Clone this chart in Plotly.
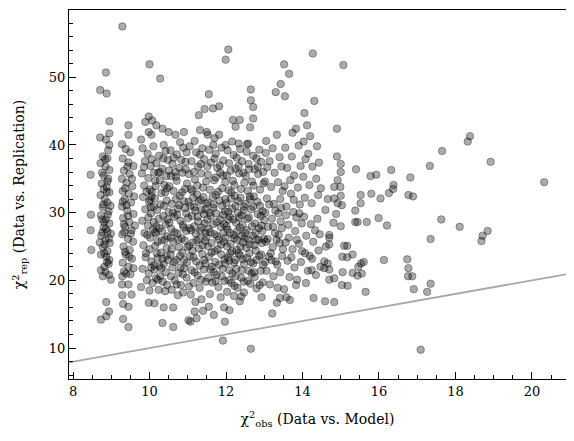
import plotly.graph_objects as go

# chi2 obs vs chi2 rep (x, y) by region
left_cols = [
    (8.46, 35.6), (8.47, 29.7), (8.46, 27.4), (8.48, 24.5),
    (8.71, 48.1), (8.88, 47.6), (8.86, 50.7), (8.95, 43.5), (8.95, 41.7), (8.71, 41.1),
    (8.86, 40.8), (8.95, 40.0), (8.78, 38.3), (8.90, 38.0), (8.72, 37.3), (8.85, 36.8),
    (8.95, 36.3), (8.80, 35.5), (8.92, 35.0), (8.75, 34.3), (8.88, 33.8), (8.95, 33.0),
    (8.72, 32.6), (8.83, 32.0), (8.90, 31.5), (8.78, 30.8), (8.93, 30.2), (8.73, 29.6),
    (8.86, 29.0), (8.95, 28.4), (8.80, 27.8), (8.90, 27.2), (8.74, 26.6), (8.85, 26.0),
    (8.96, 25.5), (8.78, 24.9), (8.90, 24.3), (8.73, 23.8), (8.87, 23.5), (8.95, 23.0),
    (8.82, 22.0), (8.73, 21.5), (8.94, 20.8), (8.99, 20.1), (8.87, 16.8), (8.94, 15.4),
    (8.87, 14.7), (8.73, 14.2), (8.84, 37.9), (8.92, 39.2), (8.76, 35.9), (8.98, 31.0),
    (8.81, 28.6), (8.99, 26.9), (8.70, 25.6), (8.93, 22.4), (8.85, 21.2), (8.88, 33.1),
    (8.79, 31.2), (8.91, 29.7), (8.83, 25.3), (8.77, 27.1),
    (8.80, 33.5), (8.90, 34.6), (8.76, 29.0), (8.86, 27.6), (8.94, 26.2), (8.82, 24.0),
    (8.89, 22.7), (8.78, 20.6),
    (9.29, 57.5), (9.45, 42.9), (9.45, 41.5), (9.28, 40.1), (9.38, 39.4), (9.50, 38.9),
    (9.30, 38.0), (9.45, 37.4), (9.58, 36.9), (9.33, 36.2), (9.48, 35.7), (9.28, 35.0),
    (9.40, 34.4), (9.55, 33.9), (9.30, 33.2), (9.46, 32.8), (9.35, 32.0), (9.52, 31.5),
    (9.28, 30.9), (9.42, 30.3), (9.58, 29.8), (9.31, 29.2), (9.47, 28.6), (9.36, 27.9),
    (9.53, 27.4), (9.29, 26.8), (9.44, 26.1), (9.57, 25.7), (9.32, 25.0), (9.48, 24.5),
    (9.38, 23.8), (9.54, 23.2), (9.30, 22.6), (9.45, 22.0), (9.33, 21.3), (9.50, 20.9),
    (9.29, 20.6), (9.45, 19.4), (9.28, 19.4), (9.29, 17.8), (9.53, 17.9), (9.31, 16.5),
    (9.45, 16.1), (9.31, 14.3), (9.45, 13.1), (9.60, 32.4), (9.62, 28.1), (9.40, 31.1),
    (9.36, 24.2), (9.58, 21.8), (9.42, 36.8), (9.34, 27.1), (9.78, 40.8), (9.78, 19.0),
    (9.36, 33.6), (9.44, 29.5), (9.51, 26.9), (9.33, 28.3), (9.47, 23.5), (9.39, 21.0),
    (9.54, 35.0), (9.30, 31.6),
]

core_10_11 = [
    (9.98, 44.2), (9.89, 43.4), (10.07, 43.6), (10.18, 42.9), (9.98, 41.9), (10.05, 41.5),
    (10.34, 42.4), (10.50, 41.9), (10.37, 40.0), (10.00, 51.9), (10.28, 49.8),
    (10.00, 18.5), (9.98, 16.7), (10.13, 16.6), (10.37, 16.0), (10.24, 18.6), (10.41, 18.4),
    (10.34, 13.7),
    (9.82, 39.5), (9.95, 38.7), (10.10, 39.8), (10.25, 38.4), (10.42, 39.1), (9.88, 37.6),
    (10.03, 36.9), (10.18, 37.3), (10.33, 36.5), (10.48, 37.8), (9.80, 35.8), (9.97, 35.1),
    (10.12, 35.9), (10.27, 34.8), (10.44, 35.4), (9.86, 34.0), (10.01, 33.4), (10.16, 33.9),
    (10.31, 32.9), (10.46, 33.6), (9.83, 32.3), (9.99, 31.6), (10.14, 32.1), (10.29, 31.2),
    (10.45, 31.8), (9.89, 30.5), (10.04, 29.9), (10.20, 30.4), (10.36, 29.5), (10.50, 30.1),
    (9.81, 28.8), (9.96, 28.1), (10.11, 28.6), (10.26, 27.7), (10.42, 28.3), (9.87, 27.0),
    (10.02, 26.3), (10.17, 26.9), (10.32, 25.9), (10.47, 26.5), (9.84, 25.2), (10.00, 24.6),
    (10.15, 25.1), (10.30, 24.1), (10.45, 24.8), (9.90, 23.4), (10.05, 22.8), (10.21, 23.3),
    (10.37, 22.4), (10.49, 23.0), (9.82, 21.7), (9.98, 21.0), (10.13, 21.6), (10.28, 20.6),
    (10.43, 21.2), (9.93, 20.0), (10.08, 19.6), (10.35, 19.8), (10.22, 20.1), (10.46, 19.3),
    (10.06, 33.1), (10.09, 27.5), (10.19, 24.0), (10.24, 29.1), (10.39, 34.1), (10.12, 22.2),
    (9.94, 26.7), (10.27, 36.0), (10.40, 26.0), (10.03, 30.8),
    (10.68, 41.5), (10.90, 41.9), (10.80, 40.4), (10.62, 16.0), (10.62, 13.1), (11.02, 14.1),
    (10.55, 39.2), (10.72, 38.6), (10.88, 39.6), (10.60, 37.2), (10.78, 36.6), (10.94, 37.5),
    (10.56, 35.4), (10.71, 34.7), (10.86, 35.9), (10.98, 34.3), (10.63, 33.2), (10.79, 32.5),
    (10.93, 33.5), (10.58, 31.3), (10.74, 30.6), (10.90, 31.7), (10.65, 29.4), (10.81, 28.8),
    (10.96, 29.9), (10.57, 27.6), (10.73, 26.9), (10.89, 27.8), (10.62, 25.7), (10.77, 24.9),
    (10.92, 25.9), (10.55, 23.8), (10.70, 23.0), (10.86, 24.1), (10.98, 22.6), (10.60, 21.9),
    (10.76, 21.1), (10.91, 21.8), (10.66, 20.0), (10.82, 19.3), (10.97, 20.4), (10.58, 18.6),
    (10.74, 17.8), (10.88, 18.2), (10.69, 32.0), (10.84, 26.2), (10.52, 28.5), (10.95, 36.4),
    (10.67, 36.0), (10.80, 23.6),
]

core_11_12 = [
    (11.18, 40.6), (11.29, 44.4), (11.44, 45.3), (11.32, 42.2), (11.50, 41.9), (11.23, 14.4),
    (11.07, 13.9), (11.18, 15.4), (11.40, 15.5),
    (11.05, 39.8), (11.22, 38.9), (11.38, 39.5), (11.10, 37.6), (11.27, 36.8), (11.43, 37.9),
    (11.03, 35.7), (11.19, 34.9), (11.35, 35.8), (11.48, 34.6), (11.08, 33.5), (11.24, 32.7),
    (11.40, 33.7), (11.02, 31.6), (11.17, 30.8), (11.33, 31.9), (11.47, 30.5), (11.11, 29.5),
    (11.27, 28.7), (11.42, 29.8), (11.05, 27.7), (11.21, 26.9), (11.37, 27.8), (11.49, 26.4),
    (11.13, 25.6), (11.29, 24.7), (11.45, 25.8), (11.06, 23.6), (11.22, 22.8), (11.38, 23.9),
    (11.10, 21.5), (11.26, 20.7), (11.42, 21.6), (11.15, 19.6), (11.31, 18.9), (11.47, 19.8),
    (11.08, 17.9), (11.36, 17.2), (11.20, 16.8), (11.14, 32.2), (11.30, 26.1), (11.25, 34.0),
    (11.44, 28.4), (11.12, 24.4), (11.34, 37.2), (11.46, 22.5),
    (11.55, 47.5), (11.66, 45.4), (11.82, 45.7), (11.52, 41.5), (11.70, 41.0), (11.82, 41.5),
    (11.67, 40.0), (11.99, 40.0), (11.99, 52.6), (12.06, 54.1), (11.68, 14.9), (11.55, 16.1),
    (11.95, 16.0), (11.92, 11.1), (11.97, 13.9),
    (11.56, 39.3), (11.73, 38.7), (11.88, 39.6), (11.61, 37.4), (11.77, 36.6), (11.93, 37.7),
    (11.53, 35.6), (11.69, 34.8), (11.85, 35.9), (11.98, 34.5), (11.58, 33.4), (11.74, 32.6),
    (11.90, 33.6), (11.52, 31.5), (11.67, 30.7), (11.83, 31.8), (11.97, 30.2), (11.60, 29.5),
    (11.76, 28.6), (11.92, 29.7), (11.54, 27.6), (11.70, 26.8), (11.86, 27.9), (11.99, 26.3),
    (11.62, 25.5), (11.78, 24.6), (11.94, 25.7), (11.56, 23.5), (11.72, 22.7), (11.88, 23.8),
    (11.59, 21.6), (11.75, 20.8), (11.91, 21.7), (11.64, 19.7), (11.80, 19.0), (11.96, 19.9),
    (11.58, 18.0), (11.86, 17.5), (11.65, 32.3), (11.81, 26.0), (11.73, 35.2), (11.95, 28.3),
    (11.62, 24.1), (11.84, 37.0), (11.98, 22.5), (11.69, 21.2),
]

core_12_13 = [
    (12.18, 43.7), (12.36, 43.7), (12.25, 42.7), (12.16, 40.5), (12.33, 40.2), (12.09, 15.6),
    (12.36, 16.9), (12.40, 17.6), (12.21, 17.7), (12.47, 18.2),
    (12.04, 39.2), (12.20, 38.5), (12.37, 39.4), (12.08, 37.3), (12.25, 36.5), (12.42, 37.6),
    (12.02, 35.5), (12.18, 34.7), (12.34, 35.8), (12.48, 34.4), (12.07, 33.3), (12.23, 32.5),
    (12.39, 33.5), (12.01, 31.4), (12.16, 30.6), (12.32, 31.7), (12.46, 30.3), (12.10, 29.4),
    (12.26, 28.5), (12.41, 29.6), (12.04, 27.5), (12.20, 26.7), (12.36, 27.8), (12.49, 26.2),
    (12.12, 25.4), (12.28, 24.5), (12.44, 25.6), (12.05, 23.4), (12.21, 22.6), (12.37, 23.7),
    (12.09, 21.5), (12.25, 20.6), (12.41, 21.5), (12.14, 19.6), (12.30, 18.9), (12.46, 19.8),
    (12.03, 18.3), (12.13, 32.1), (12.29, 26.0), (12.22, 34.1), (12.43, 28.2), (12.11, 24.0),
    (12.33, 36.9), (12.47, 22.4), (12.17, 21.0), (12.31, 30.0), (12.06, 29.0), (12.38, 25.0),
    (12.24, 23.0),
    (12.65, 48.2), (12.65, 46.6), (12.71, 45.6), (12.71, 43.9), (12.63, 42.6), (12.58, 40.2),
    (12.55, 40.1), (12.65, 9.9), (12.93, 17.5),
    (12.54, 39.0), (12.71, 38.4), (12.87, 39.3), (12.59, 37.2), (12.75, 36.4), (12.92, 37.5),
    (12.52, 35.4), (12.68, 34.6), (12.84, 35.7), (12.98, 34.3), (12.57, 33.2), (12.73, 32.4),
    (12.89, 33.4), (12.51, 31.3), (12.66, 30.5), (12.82, 31.6), (12.96, 30.2), (12.60, 29.3),
    (12.76, 28.4), (12.91, 29.5), (12.54, 27.4), (12.70, 26.6), (12.86, 27.7), (12.99, 26.1),
    (12.62, 25.3), (12.78, 24.4), (12.94, 25.5), (12.55, 23.3), (12.71, 22.5), (12.87, 23.6),
    (12.59, 21.4), (12.75, 20.5), (12.91, 21.4), (12.64, 19.5), (12.80, 18.8), (12.96, 19.7),
    (12.63, 32.0), (12.79, 26.0), (12.72, 34.0), (12.93, 28.1), (12.61, 24.0), (12.83, 36.8),
    (12.97, 22.3), (12.67, 21.0),
]

core_13_145 = [
    (13.52, 51.9), (13.43, 49.0), (13.30, 47.8), (13.21, 15.1), (13.33, 16.7), (13.41, 17.4),
    (13.33, 41.5), (13.05, 40.6),
    (13.04, 38.8), (13.22, 39.5), (13.40, 38.2), (13.08, 36.7), (13.27, 35.9), (13.45, 36.8),
    (13.02, 34.6), (13.18, 33.8), (13.36, 34.5), (13.48, 33.2), (13.07, 32.1), (13.25, 31.3),
    (13.42, 32.0), (13.03, 30.0), (13.20, 29.1), (13.37, 29.9), (13.10, 27.9), (13.28, 27.0),
    (13.46, 27.7), (13.05, 25.7), (13.22, 24.9), (13.40, 25.5), (13.12, 23.5), (13.30, 22.8),
    (13.47, 23.6), (13.06, 21.4), (13.24, 20.6), (13.42, 21.2), (13.15, 19.4), (13.35, 18.9),
    (13.14, 37.6), (13.32, 26.0), (13.19, 23.0), (13.44, 30.7),
    (13.54, 47.2), (13.65, 50.5), (13.83, 42.4), (13.74, 41.8), (13.58, 17.5), (13.67, 17.1),
    (13.52, 18.7), (13.83, 19.3),
    (13.55, 39.6), (13.72, 38.3), (13.90, 39.9), (13.60, 36.6), (13.78, 35.5), (13.95, 36.9),
    (13.53, 33.9), (13.70, 32.8), (13.88, 33.7), (13.58, 30.9), (13.76, 30.1), (13.93, 31.2),
    (13.63, 28.2), (13.81, 27.3), (13.98, 28.4), (13.56, 25.6), (13.74, 24.6), (13.91, 25.4),
    (13.61, 22.9), (13.79, 21.9), (13.96, 22.7), (13.66, 20.5), (13.86, 20.1), (13.68, 34.8),
    (13.84, 29.3),
    (14.27, 53.5), (14.31, 46.5), (14.05, 44.7), (14.12, 42.9), (14.09, 19.6), (14.24, 21.5),
    (14.29, 17.4),
    (14.03, 40.5), (14.20, 41.3), (14.38, 39.8), (14.08, 37.9), (14.26, 36.8), (14.43, 37.4),
    (14.02, 35.3), (14.18, 34.1), (14.36, 35.0), (14.48, 33.6), (14.06, 32.2), (14.24, 31.4),
    (14.41, 32.6), (14.04, 29.4), (14.22, 28.3), (14.39, 29.1), (14.10, 26.6), (14.28, 25.7),
    (14.45, 26.8), (14.07, 24.0), (14.25, 23.2), (14.42, 24.4), (14.14, 21.4), (14.35, 20.8),
    (14.47, 22.0), (14.15, 38.7), (14.33, 27.4), (14.19, 23.6),
]

# extra points where the reference core is darkest (heavy overlap)
core_extra = [
    (10.02, 31.9), (10.05, 32.4), (10.11, 30.9), (10.14, 27.1), (10.18, 28.0), (10.21, 25.7),
    (10.26, 22.1), (10.31, 21.8), (10.33, 27.2), (10.38, 31.0), (10.41, 33.0), (10.44, 23.6),
    (10.47, 29.0), (10.52, 33.9), (10.55, 26.3), (10.58, 24.6), (10.61, 30.0), (10.64, 22.7),
    (10.66, 27.1), (10.69, 35.3), (10.72, 29.7), (10.75, 26.0), (10.78, 31.1), (10.81, 21.9),
    (10.85, 33.0), (10.87, 28.2), (10.90, 23.0), (10.93, 30.7), (10.96, 27.3), (10.99, 24.9),
    (11.01, 29.2), (11.04, 25.1), (11.07, 31.0), (11.09, 27.4), (11.12, 33.2), (11.15, 23.4),
    (11.17, 28.0), (11.20, 30.3), (11.23, 25.9), (11.26, 29.4), (11.28, 31.6), (11.31, 22.2),
    (11.33, 27.3), (11.36, 30.4), (11.39, 25.2), (11.41, 32.3), (11.43, 23.0), (11.46, 27.0),
    (11.48, 31.3), (11.51, 29.0), (11.53, 25.0), (11.57, 30.0), (11.59, 27.1), (11.63, 22.0),
    (11.66, 28.3), (11.68, 31.2), (11.71, 24.3), (11.74, 29.9), (11.77, 26.5), (11.79, 33.1),
    (11.82, 22.3), (11.85, 29.0), (11.87, 25.3), (11.90, 31.0), (11.93, 27.0), (11.96, 23.1),
    (11.98, 32.0), (12.01, 28.0), (12.03, 25.0), (12.06, 30.1), (12.08, 22.9), (12.11, 27.0),
    (12.14, 33.0), (12.16, 24.3), (12.19, 29.0), (12.22, 26.2), (12.25, 31.0), (12.27, 21.7),
    (12.30, 27.3), (12.33, 24.0), (12.35, 29.3), (12.38, 32.2), (12.41, 26.6), (12.44, 23.1),
    (12.47, 30.9), (12.50, 27.0), (12.53, 24.8), (12.56, 29.1), (12.59, 26.0), (12.62, 32.4),
    (12.65, 22.7), (12.68, 28.0), (12.71, 30.9), (12.74, 25.2), (12.77, 27.0), (12.80, 23.0),
    (12.83, 29.8), (12.86, 26.0), (12.89, 31.0), (12.92, 23.8), (12.95, 27.3),
    (13.00, 28.9), (13.09, 26.1), (13.13, 31.2), (13.17, 24.0), (13.23, 27.9), (13.29, 30.3),
    (13.34, 22.3), (13.38, 26.7), (13.43, 28.7), (13.49, 24.6), (13.57, 29.6), (13.64, 26.3),
    (13.71, 23.4), (13.77, 31.9), (13.85, 26.0), (13.92, 29.9), (13.99, 24.3),
    (9.85, 36.7), (9.92, 33.1), (9.97, 29.3), (10.06, 37.9), (10.15, 34.7), (10.23, 35.9),
    (10.36, 38.0), (10.51, 36.2), (10.63, 38.1), (10.83, 37.8), (10.97, 38.9), (11.16, 36.0),
    (11.32, 38.6), (11.51, 36.8), (11.70, 38.0), (11.92, 35.5), (12.12, 36.2), (12.28, 38.1),
    (12.45, 35.9), (12.60, 36.4), (12.80, 38.0), (12.97, 36.0),
    (9.91, 24.0), (10.04, 21.9), (10.17, 20.3), (10.34, 23.2), (10.56, 20.6), (10.71, 19.4),
    (10.87, 20.9), (11.03, 19.1), (11.18, 21.2), (11.35, 20.1), (11.54, 20.4), (11.73, 19.9),
    (11.89, 20.6), (12.07, 20.0), (12.22, 19.2), (12.40, 20.4), (12.57, 19.9), (12.73, 21.2),
    (12.88, 19.3), (13.02, 22.7),
]

right_tail = [
    (14.90, 42.4), (14.90, 38.3), (15.00, 37.2), (15.00, 36.0), (15.40, 36.4), (15.78, 35.4),
    (15.93, 35.6), (16.32, 36.3), (16.82, 35.2), (17.33, 36.9), (17.65, 39.1), (14.92, 34.8),
    (14.83, 33.8), (14.99, 33.8), (14.66, 32.0), (14.83, 32.1), (14.92, 31.4), (15.03, 31.1),
    (15.00, 32.5), (15.52, 32.6), (15.52, 31.4), (15.80, 32.8), (16.04, 32.1), (16.26, 32.9),
    (16.38, 34.1), (16.37, 33.5), (16.77, 32.6), (16.89, 32.4), (14.60, 30.4), (14.88, 29.8),
    (15.00, 28.0), (14.81, 28.5), (15.38, 30.3), (15.38, 28.6), (15.44, 28.6), (15.68, 28.6),
    (15.99, 29.2), (16.21, 28.1), (17.63, 29.0), (17.35, 26.1), (14.70, 26.7), (14.70, 26.3),
    (14.61, 25.0), (14.70, 25.3), (15.09, 25.1), (15.17, 25.1), (15.31, 23.8), (15.04, 23.5),
    (15.17, 23.4), (14.57, 22.8), (14.66, 22.5), (14.57, 21.8), (14.70, 21.6), (15.05, 21.2),
    (15.31, 21.1), (15.53, 22.5), (15.60, 22.7), (15.46, 22.0), (15.55, 21.0), (15.44, 20.7),
    (16.13, 23.0), (16.74, 23.1), (16.77, 21.8), (16.76, 20.6), (16.87, 20.6), (16.91, 18.7),
    (17.26, 18.3), (17.35, 19.5), (15.65, 18.3), (15.03, 19.3), (15.18, 19.2), (14.83, 20.3),
    (14.70, 20.1), (14.59, 16.9), (14.83, 16.8), (15.07, 51.8),
    (18.38, 41.3), (18.32, 40.5), (18.92, 37.5), (20.32, 34.5), (18.11, 27.9), (18.84, 27.3),
    (18.71, 26.6), (18.68, 25.8), (17.09, 9.75),
]

x_range = [7.895, 20.89]
y_range = [5.43, 59.93]

points = left_cols + core_10_11 + core_11_12 + core_12_13 + core_13_145 + core_extra + right_tail
chi2_obs = [p[0] for p in points]
chi2_rep = [p[1] for p in points]

fig = go.Figure()

# one-to-one line
fig.add_trace(go.Scatter(
    x=x_range, y=x_range, mode="lines",
    line=dict(color="#a8a8a8", width=1.8),
    hoverinfo="skip", showlegend=False,
))

fig.add_trace(go.Scatter(
    x=chi2_obs, y=chi2_rep, mode="markers",
    marker=dict(size=7.5, color="rgba(0,0,0,0.33)",
                line=dict(color="rgba(0,0,0,0.33)", width=1)),
    showlegend=False,
))

axis_common = dict(
    showline=True, linecolor="black", linewidth=1, mirror=True,
    ticks="inside", ticklen=7, tickwidth=1, tickcolor="black",
    showgrid=False, zeroline=False, automargin=False,
    tickfont=dict(family="DejaVu Serif", size=13, color="black"),
)

fig.update_xaxes(
    range=x_range, dtick=2, tick0=0,
    minor=dict(ticks="inside", dtick=0.5, ticklen=4, tickcolor="black", showgrid=False),
    title=dict(text="χ<sup>2</sup><sub>obs</sub> (Data vs. Model)",
               font=dict(family="DejaVu Serif", size=14, color="black"), standoff=16),
    **axis_common,
)
fig.update_yaxes(
    range=y_range, dtick=10, tick0=0,
    minor=dict(ticks="inside", dtick=2, ticklen=4, tickcolor="black", showgrid=False),
    title=dict(text="χ<sup>2</sup><sub>rep</sub> (Data vs. Replication)",
               font=dict(family="DejaVu Serif", size=14, color="black"), standoff=20),
    **axis_common,
)

# the page body adds an 8px offset, so the figure is sized to fit the window
fig.update_layout(
    width=566, height=433,
    margin=dict(l=61, r=8, t=2, b=62),
    plot_bgcolor="white", paper_bgcolor="white",
)

fig.write_html("out.html")
